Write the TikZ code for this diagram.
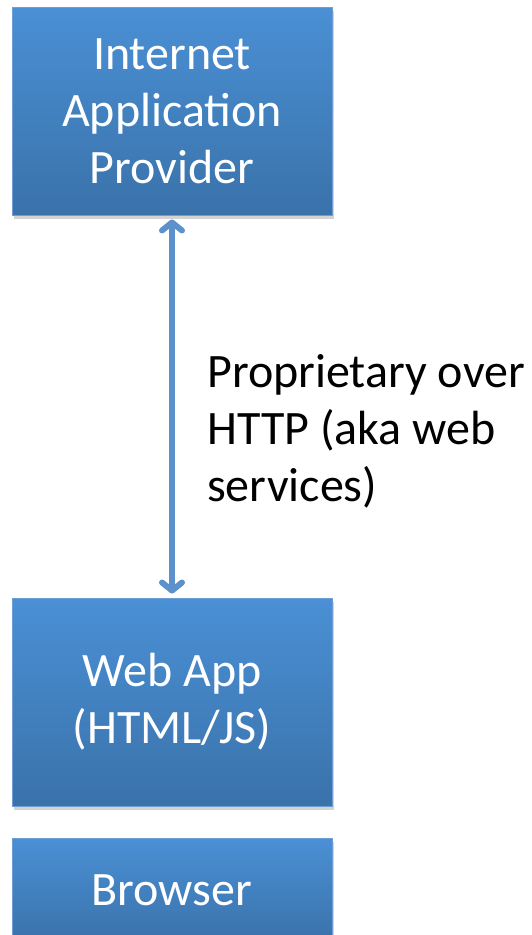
\documentclass[tikz,border=0pt]{standalone}
\usepackage{fontspec}
\setmainfont{Carlito}
\usetikzlibrary{arrows.meta,shadows}
\definecolor{boxtop}{RGB}{74,144,213}
\definecolor{boxbottom}{RGB}{58,114,170}
\definecolor{boxedge}{RGB}{110,158,212}
\definecolor{linkblue}{RGB}{92,145,204}

\tikzset{
  appbox/.style={rectangle, draw=boxedge, line width=1pt, top color=boxtop, bottom color=boxbottom,
    minimum width=320pt, text=white, align=center, inner sep=0pt,
    font=\fontsize{48}{57}\selectfont,
    drop shadow={shadow xshift=1.5pt, shadow yshift=-4pt, opacity=0.35}},
  link/.style={linkblue, line width=6pt, {Straight Barb[length=8pt,width=20pt,round]}-{Straight Barb[length=8pt,width=20pt,round]}},
}

\begin{document}
\begin{tikzpicture}[x=1pt,y=-1pt]
  \useasboundingbox (0,0) rectangle (532,935);
  \node[appbox, minimum height=208pt] (provider) at (172,111) {Internet\\Application\\Provider};
  \node[appbox, minimum height=208pt] (webapp) at (172,702) {Web App\\(HTML/JS)};
  \node[appbox, minimum height=104pt] (browser) at (172,890) {Browser};
  \draw[link] ([yshift=-4pt]provider.south) -- ([yshift=4pt]webapp.north);
  \node[anchor=north west, align=left, inner sep=0pt, font=\fontsize{48}{57}\selectfont] (proto) at (207,354)
    {Proprietary over\\HTTP (aka web\\services)};
\end{tikzpicture}
\end{document}
